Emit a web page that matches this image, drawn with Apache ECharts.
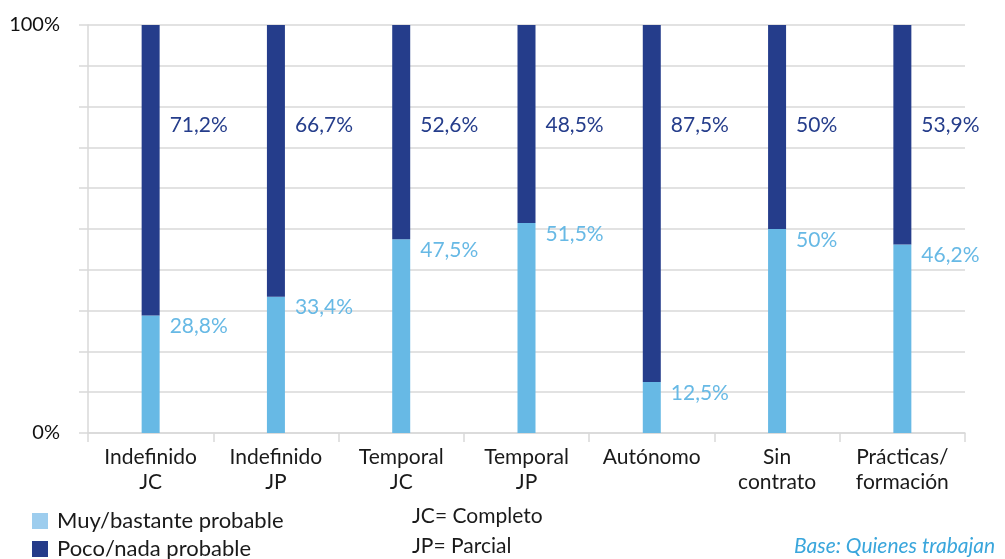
<!DOCTYPE html>
<html><head><meta charset="utf-8">
<script src="https://cdn.jsdelivr.net/npm/echarts@6/dist/echarts.min.js"></script>
<style>html,body{margin:0;padding:0;background:#fff}#c{width:1005px;height:559px}</style>
</head><body><div id="c"></div>
<script>
const categories = ['Indefinido\nJC', 'Indefinido\nJP', 'Temporal\nJC', 'Temporal\nJP', 'Autónomo', 'Sin\ncontrato', 'Prácticas/\nformación'];
const muyProbable = [28.8, 33.4, 47.5, 51.5, 12.5, 50, 46.2];
const pocoProbable = [71.2, 66.7, 52.6, 48.5, 87.5, 50, 53.9];
const seriesNames = ['Muy/bastante probable', 'Poco/nada probable'];
const legendColors = ['#9dcdee', '#253b89'];
const yTickLabels = { 0: '0%', 100: '100%' };
const notes = ['JC= Completo', 'JP= Parcial'];
const baseNote = 'Base: Quienes trabajan';

const FONT = 'Lato';
const DARK = '#253d8b';
const LIGHT = '#67b9e5';
const GRID = '#d9d9d9';
const fmt = v => String(v).replace('.', ',') + '%';

const legendFor = (i, top) => ({
  orient: 'horizontal', left: 32, top: top, padding: 0, itemWidth: 16, itemHeight: 16, itemGap: 10,
  textStyle: { fontFamily: FONT, fontSize: 22, lineHeight: 20, color: '#1a1a1a', padding: [0, 0, 0, 4] },
  icon: 'rect', selectedMode: false,
  data: [{ name: seriesNames[i], itemStyle: { color: legendColors[i] } }]
});

const chart = echarts.init(document.getElementById('c'), null, { renderer: 'canvas' });
chart.setOption({
  animation: false,
  backgroundColor: '#fff',
  textStyle: { fontFamily: FONT },
  grid: { left: 88, right: 40, top: 25, bottom: 126, containLabel: false },
  legend: [legendFor(0, 510), legendFor(1, 538)],
  xAxis: {
    type: 'category', data: categories,
    axisLine: { lineStyle: { color: GRID, width: 1.5 } },
    axisTick: { show: true, length: 9, alignWithLabel: false, lineStyle: { color: GRID, width: 1.5 } },
    axisLabel: { interval: 0, margin: 12, fontFamily: FONT, fontSize: 21, lineHeight: 25, color: '#1a1a1a' }
  },
  yAxis: {
    type: 'value', min: 0, max: 100, interval: 10,
    axisLine: { show: true, lineStyle: { color: GRID, width: 1.5 } },
    axisTick: { show: true, length: 9, lineStyle: { color: GRID, width: 1.5 } },
    splitLine: { lineStyle: { color: GRID, width: 1.5 } },
    axisLabel: {
      margin: 28, fontFamily: FONT, fontSize: 20, color: '#111',
      formatter: v => yTickLabels[v] !== undefined ? yTickLabels[v] : ''
    }
  },
  series: [
    {
      name: seriesNames[0], type: 'bar', stack: 'total', barWidth: 18, data: muyProbable,
      itemStyle: { color: LIGHT },
      label: {
        show: true, position: ['100%', 0], offset: [10, 11], align: 'left', verticalAlign: 'middle',
        fontFamily: FONT, fontSize: 21, color: LIGHT, formatter: p => fmt(p.value)
      }
    },
    {
      name: seriesNames[1], type: 'bar', stack: 'total', barWidth: 18, data: pocoProbable,
      itemStyle: { color: DARK },
      label: {
        show: true, position: ['100%', 100], offset: [10, 0], align: 'left', verticalAlign: 'middle',
        fontFamily: FONT, fontSize: 21, color: DARK, formatter: p => fmt(p.value)
      }
    }
  ],
  graphic: [
    { type: 'text', left: 412, top: 506, style: { text: notes[0], fontFamily: FONT, fontSize: 21, fill: '#1a1a1a' } },
    { type: 'text', left: 412, top: 536, style: { text: notes[1], fontFamily: FONT, fontSize: 21, fill: '#1a1a1a' } },
    { type: 'text', left: 794, top: 536, style: { text: baseNote, fontFamily: FONT, fontSize: 21, fontStyle: 'italic', fill: '#3aa6dc' } }
  ]
});
</script></body></html>
